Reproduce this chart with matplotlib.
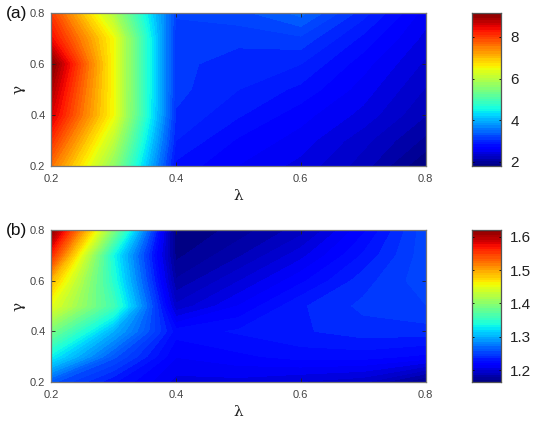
import numpy as np
import matplotlib
matplotlib.use("Agg")
import matplotlib.pyplot as plt

lam = [0.2, 0.3, 0.4, 0.5, 0.6, 0.7, 0.8]
gam = [0.2, 0.3, 0.4, 0.5, 0.6, 0.7, 0.8]
# each inner list: one lambda column, gamma ascending
za_by_lam = [
    [7.6, 8.1, 8.6, 8.85, 9.15, 8.4, 8.0],
    [5.65, 6.05, 6.5, 6.5, 6.5, 6.5, 5.9],
    [2.8, 2.95, 3.05, 3.1, 3.1, 3.1, 3.2],
    [2.6, 2.7, 2.85, 2.95, 3.0, 3.1, 3.25],
    [2.45, 2.55, 2.65, 2.8, 2.95, 3.15, 3.45],
    [2.2, 2.3, 2.45, 2.55, 2.65, 2.8, 3.0],
    [1.8, 2.0, 2.15, 2.25, 2.35, 2.45, 2.55],
]
zb_by_lam = [
    [1.26, 1.33, 1.39, 1.45, 1.49, 1.56, 1.62],
    [1.23, 1.26, 1.30, 1.36, 1.345, 1.336, 1.395],
    [1.205, 1.215, 1.225, 1.195, 1.18, 1.17, 1.165],
    [1.205, 1.22, 1.23, 1.215, 1.20, 1.185, 1.175],
    [1.20, 1.225, 1.235, 1.235, 1.22, 1.205, 1.19],
    [1.195, 1.225, 1.24, 1.245, 1.24, 1.23, 1.22],
    [1.17, 1.22, 1.24, 1.25, 1.255, 1.255, 1.255],
]
ticks = [0.2, 0.4, 0.6, 0.8]
cb_ticks_a = [2, 4, 6, 8]
cb_ticks_b = [1.2, 1.3, 1.4, 1.5, 1.6]
panels = ["(a)", "(b)"]

plt.rcParams['font.family'] = ['Liberation Sans', 'DejaVu Sans']
W, H = 540, 428
fig = plt.figure(figsize=(W/100, H/100), dpi=100)

def rect(x0, x1, y0, y1):
    return [x0/W, 1-y1/H, (x1-x0)/W, (y1-y0)/H]

def panel(z, label, y0, y1, cbt, fmt):
    ax = fig.add_axes(rect(51, 425.5, y0, y1))
    z = np.array(z).T
    levels = np.linspace(z.min(), z.max(), 65)
    ax.contourf(lam, gam, z, levels=levels, cmap='jet')
    ax.set_xlim(0.2, 0.8); ax.set_ylim(0.2, 0.8)
    ax.set_xticks(ticks); ax.set_yticks(ticks)
    ax.set_xticklabels([f"{t:.1f}" for t in ticks])
    ax.set_yticklabels([f"{t:.1f}" for t in ticks])
    ax.tick_params(direction='in', length=3, width=0.6, labelsize=8, labelcolor='#444444',
                   top=True, right=True, color='#222222')
    ax.tick_params(axis='x', pad=6)
    ax.tick_params(axis='y', pad=4)
    for s in ax.spines.values():
        s.set_color('#777777'); s.set_linewidth(0.9)
    ax.set_xlabel('λ', fontsize=11, color='#222222', family=['DejaVu Serif'], labelpad=3.5)
    ax.set_ylabel('γ', fontsize=11, color='#222222', family=['DejaVu Serif'], labelpad=3)
    fig.text(6/W, 1-(y0+0.5)/H, label, fontsize=12.5, color='#111111', va='center', ha='left')
    cax = fig.add_axes(rect(472, 500.5, y0, y1))
    g = np.linspace(z.min(), z.max(), 65)
    cax.contourf([0, 1], g, np.column_stack([g, g]), levels=levels, cmap='jet')
    cax.set_xticks([]); cax.yaxis.tick_right()
    cax.set_ylim(z.min(), z.max())
    cax.set_yticks(cbt)
    cax.set_yticklabels([fmt.format(t) for t in cbt])
    cax.tick_params(axis='y', direction='in', length=1.5, width=0.6, labelsize=11,
                    labelcolor='#222222', left=True, right=True, pad=7)
    for s in cax.spines.values():
        s.set_color('#555555'); s.set_linewidth(0.9)

panel(za_by_lam, panels[0], 13, 166, cb_ticks_a, "{:d}")
panel(zb_by_lam, panels[1], 230, 382, cb_ticks_b, "{:.1f}")
fig.savefig('out.png', dpi=100)
